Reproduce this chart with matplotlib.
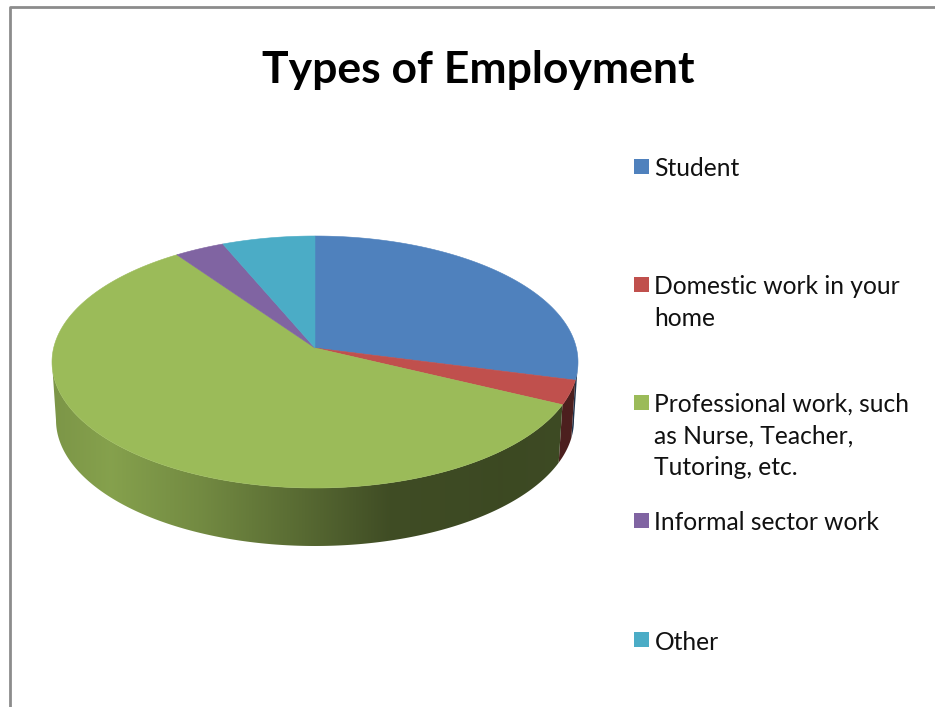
import numpy as np
import matplotlib.pyplot as plt
from matplotlib.colors import to_rgb
from matplotlib.patches import Polygon, Rectangle

plt.rcParams['font.family'] = ['Lato', 'DejaVu Sans']

labels = ['Student', 'Domestic work in your\nhome',
          'Professional work, such\nas Nurse, Teacher,\nTutoring, etc.',
          'Informal sector work', 'Other']
values = [27.3, 3.2, 60.7, 3.1, 5.7]
colors = ['#4f81bd', '#c0504d', '#9bbb59', '#8064a2', '#4bacc6']
legend_y = [166, 284.5, 402, 520.5, 639.5]

cx, cy = 315, 362
rx, ry = 263, 126
rx_low = 259
apex_y = 348
depth = 58

# brightness of the side wall going left to right
shade_x = [52, 110, 200, 300, 390, 500, 578]
shade_v = [0.80, 0.86, 0.74, 0.57, 0.41, 0.39, 0.40]


def rim(t, r=rx, dy=0):
    return cx + r * np.sin(t), cy + dy - ry * np.cos(t)


fig = plt.figure(figsize=(9.35, 7.07), dpi=100)
ax = fig.add_axes([0, 0, 1, 1])
ax.axis('off')

# page edge
ax.plot([10, 10, 935], [707, 7, 7], color='#8c8c8c', lw=2)

ax.text(478, 70, 'Types of Employment', ha='center', va='center',
        fontsize=32, fontweight='bold', color='black')

edges = np.cumsum([0] + values) / sum(values) * 2 * np.pi

# side wall first, only the front half shows
grad_x = np.arange(40, 600)
grad_v = np.interp(grad_x, shade_x, shade_v)
for i, col in enumerate(colors):
    a = max(edges[i], np.pi / 2)
    b = min(edges[i + 1], 3 * np.pi / 2)
    if b <= a:
        continue
    ts = np.linspace(a, b, 200)
    x0, y0 = rim(ts)
    x1, y1 = rim(ts[::-1], rx_low, depth)
    wall = Polygon(np.column_stack([np.r_[x0, x1], np.r_[y0, y1]]),
                   facecolor='none', edgecolor='none', transform=ax.transData)
    ax.add_patch(wall)
    img = np.outer(grad_v, to_rgb(col))[np.newaxis, :, :]
    im = ax.imshow(img, extent=[40, 600, 600, 200], aspect='auto', interpolation='bilinear')
    im.set_clip_path(wall)

# top face
for i, col in enumerate(colors):
    ts = np.linspace(edges[i], edges[i + 1], 200)
    x, y = rim(ts)
    pts = [(cx, apex_y)] + list(zip(x, y))
    ax.add_patch(Polygon(pts, facecolor=col, edgecolor=col, lw=0.4))

# legend
for lab, col, y in zip(labels, colors, legend_y):
    ax.add_patch(Rectangle((634, y - 7.5), 15, 15, facecolor=col, edgecolor='none'))
    ax.text(654.5, y - 9, lab, ha='left', va='top', fontsize=17.7, color='#111111',
            linespacing=1.46)

ax.set_xlim(0, 935)
ax.set_ylim(707, 0)

fig.savefig('out.png', dpi=100)
